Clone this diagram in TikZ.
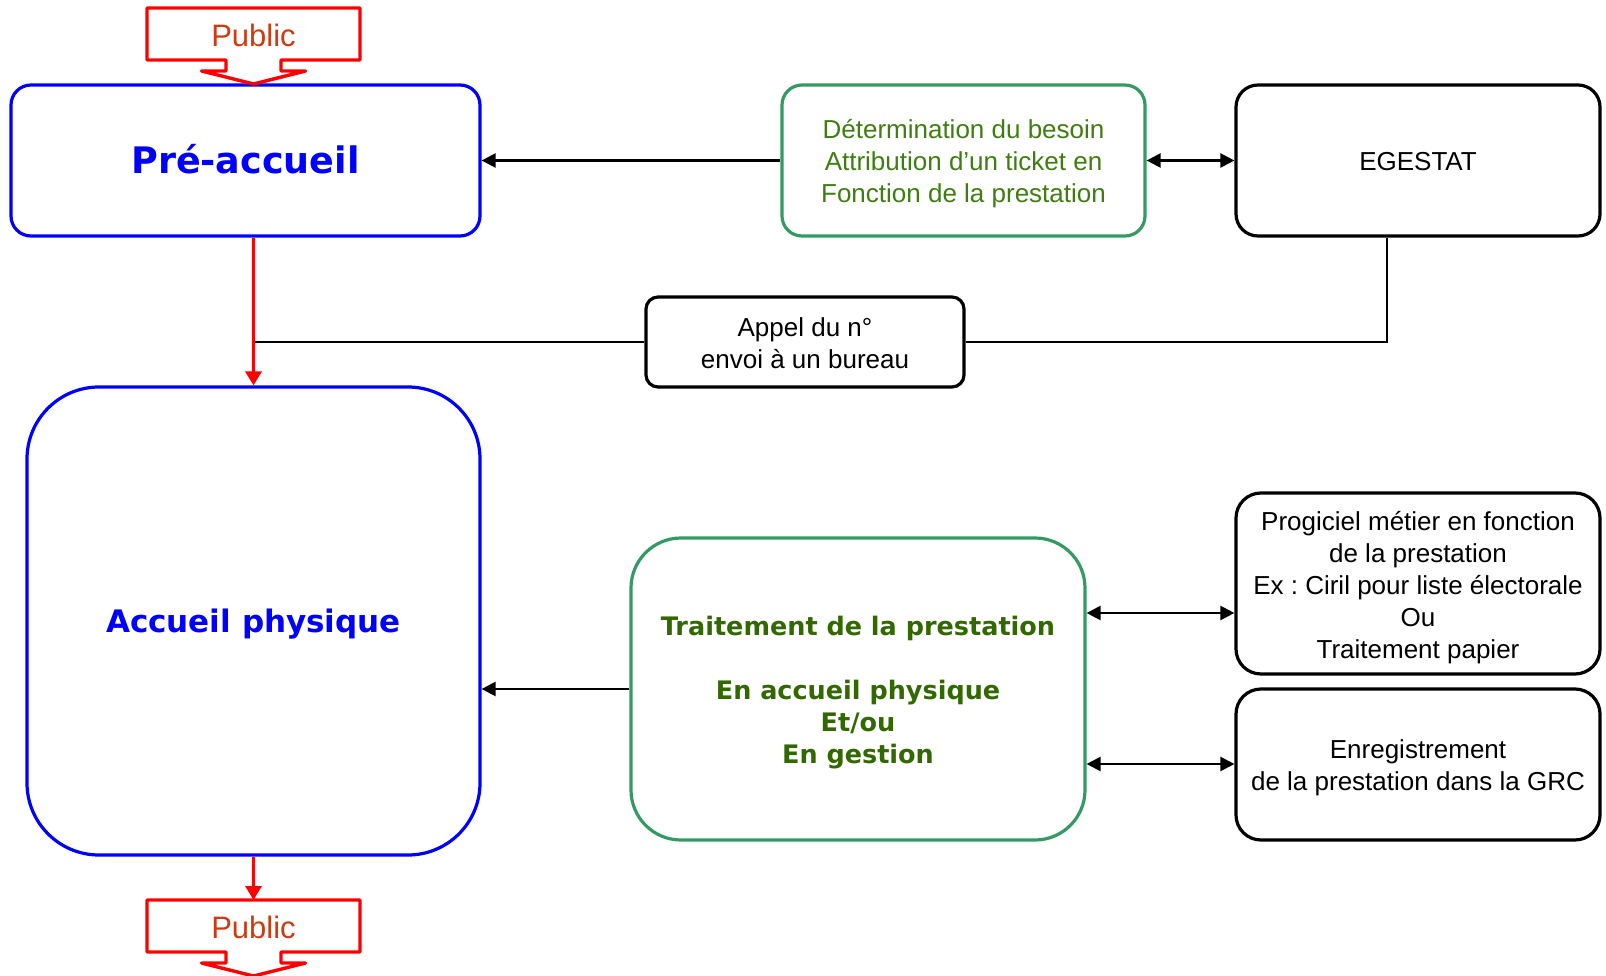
\documentclass[tikz,border=0pt]{standalone}
\usepackage{fontspec}
\setmainfont{Liberation Sans}
\newfontfamily\heavyfont{DejaVu Sans}
\usetikzlibrary{arrows.meta}
\frenchspacing
\definecolor{pblue}{RGB}{0,0,255}
\definecolor{gborder}{RGB}{52,154,100}
\definecolor{gtext}{RGB}{62,125,16}
\definecolor{gbold}{RGB}{50,104,0}
\definecolor{pred}{RGB}{255,0,0}
\definecolor{ptext}{RGB}{208,58,16}
\tikzset{
  box/.style={draw, line width=3.2pt, inner sep=0pt},
  bluebox/.style={box, draw=pblue},
  greenbox/.style={box, draw=gborder},
  blackbox/.style={box, draw=black},
  txt/.style={inner sep=0pt, align=center, font=\frenchspacing\fontsize{26}{32}\selectfont},
  bluetxt/.style={txt, text=pblue},
  greentxt/.style={txt, text=gtext},
  boldgreentxt/.style={txt, text=gbold, font=\heavyfont\bfseries\fontsize{25.5}{32}\selectfont},
  blacktxt/.style={txt, text=black},
  conn/.style={draw=black, line width=2.3pt},
  arr/.style={conn, -{Triangle[length=14pt,width=14pt]}},
  dbl/.style={conn, {Triangle[length=14pt,width=14pt]}-{Triangle[length=14pt,width=14pt]}},
  redarr/.style={draw=pred, line width=3.4pt, -{Triangle[length=14pt,width=16pt]}},
  pubshape/.style={draw=pred, line width=3.4pt, line join=round},
  pubtext/.style={text=ptext, font=\fontsize{31}{36}\selectfont, inner sep=0pt},
}
\begin{document}
\begin{tikzpicture}[x=1pt,y=-1pt]
\useasboundingbox (0,0) rectangle (1606,976);

% main boxes
\node[bluebox, rounded corners=20pt, minimum width=469pt, minimum height=151pt] (pre) at (245.5,160.5) {};
\node[bluetxt] (pret) at ([yshift=1pt]pre.center)
  {\heavyfont\bfseries\fontsize{36.5}{40}\selectfont Pré-accueil};
\node[bluebox, rounded corners=72pt, minimum width=453pt, minimum height=468pt] (acc) at (253.5,621) {};
\node[bluetxt] (acct) at ([yshift=-3pt]acc.center)
  {\heavyfont\bfseries\fontsize{31}{36}\selectfont Accueil physique};
\node[greenbox, rounded corners=20pt, minimum width=363pt, minimum height=151pt] (det) at (963.5,160.5) {};
\node[greentxt] (dett) at ([yshift=-3pt]det.center)
  {Détermination du besoin\\Attribution d’un ticket en\\Fonction de la prestation};
\node[blackbox, rounded corners=22pt, minimum width=364pt, minimum height=151pt] (ege) at (1418,160.5) {};
\node[blacktxt] (eget) at ([yshift=-1pt]ege.center) {EGESTAT};
\node[blackbox, rounded corners=12pt, minimum width=318pt, minimum height=90pt] (appel) at (805,342) {};
\node[blacktxt] (appelt) at ([yshift=-1.5pt]appel.center) {Appel du n°\\envoi à un bureau};
\node[greenbox, rounded corners=50pt, minimum width=454pt, minimum height=302pt] (trait) at (858,689) {};
\node[boldgreentxt] (traitt) at ([yshift=-4pt]trait.center)
  {Traitement de la prestation\\\mbox{}\\En accueil physique\\Et/ou\\En gestion};
\node[blackbox, rounded corners=25pt, minimum width=364pt, minimum height=181pt] (prog) at (1418,583.5) {};
\node[blacktxt] (progt) at ([yshift=-4pt]prog.center)
  {Progiciel métier en fonction\\de la prestation\\Ex : Ciril pour liste électorale\\Ou\\Traitement papier};
\node[blackbox, rounded corners=25pt, minimum width=364pt, minimum height=151pt] (enr) at (1418,764.5) {};
\node[blacktxt] (enrt) at ([yshift=-3pt]enr.center)
  {Enregistrement\\de la prestation dans la GRC};

% Public callouts
\node[pubtext] (pub1) at (253.5,35) {Public};
\node[pubtext] (pub2) at (253.5,927) {Public};
\foreach \p in {pub1,pub2}{
  \begin{scope}[shift={([yshift=1pt]\p.center)}]
    \draw[pubshape] (-106.5,-26) -- (106.5,-26) -- (106.5,26) -- (27.5,26) -- (27.5,37)
      -- (52,37) -- (0,50) -- (-52,37) -- (-27.5,37) -- (-27.5,26) -- (-106.5,26) -- cycle;
  \end{scope}
}
\coordinate (pub2top) at (253.5,900);

% connectors
\coordinate (egx) at (1387,0);
\coordinate (y1) at (0,613);
\coordinate (y2) at (0,764);
\draw[arr] (det.west) -- (pre.east);
\draw[dbl] (det.east) -- (ege.west);
\draw[conn] (ege.south -| egx) |- (appel.east);
\draw[conn] (appel.west) -- (appel.west -| acc.north);
\draw[redarr] (acc.north |- pre.south) -- (acc.north);
\draw[redarr] (acc.south) -- (pub2top);
\draw[arr] (trait.west) -- (trait.west -| acc.east);
\draw[dbl] (trait.east |- y1) -- (prog.west |- y1);
\draw[dbl] (trait.east |- y2) -- (enr.west |- y2);
\end{tikzpicture}
\end{document}
